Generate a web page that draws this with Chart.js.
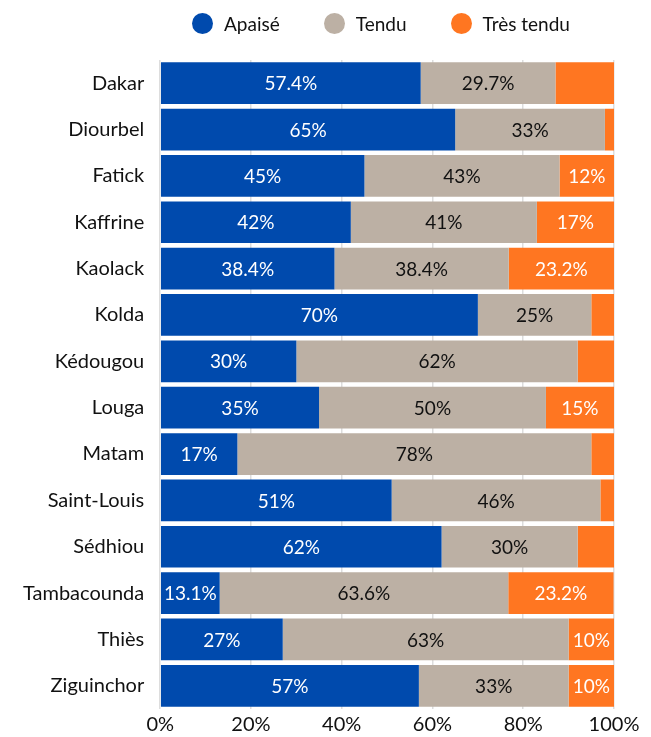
<!DOCTYPE html>
<html>
<head>
<meta charset="utf-8">
<script src="https://cdn.jsdelivr.net/npm/chart.js@4.4.0/dist/chart.umd.min.js"></script>
<style>
    html, body { margin: 0; padding: 0; background: #fff; }
    #page { position: relative; width: 651px; height: 737px; }
    #legend {
        position: absolute;
        top: 0;
        left: 0;
        height: 46px;
        display: flex;
        justify-content: center;
        align-items: center;
        gap: 44px;
        padding-left: 148px;
        padding-right: 37px;
        box-sizing: border-box;
        width: 651px;
        font: 19px Lato, sans-serif;
        color: #111;
    }
    #legend .item { display: flex; align-items: center; }
    #legend .dot { width: 21px; height: 21px; border-radius: 50%; margin-right: 11px; }
    #wrap { width: 651px; height: 737px; }
</style>
</head>
<body>
<div id="page">
    <div id="wrap"><canvas id="climat-chart"></canvas></div>
    <div id="legend"></div>
</div>
<script>
const regions = ["Dakar", "Diourbel", "Fatick", "Kaffrine", "Kaolack", "Kolda", "Kédougou",
    "Louga", "Matam", "Saint-Louis", "Sédhiou", "Tambacounda", "Thiès", "Ziguinchor"];
const apaise    = [57.4, 65, 45, 42, 38.4, 70, 30, 35, 17, 51, 62, 13.1, 27, 57];
const tendu     = [29.7, 33, 43, 41, 38.4, 25, 62, 50, 78, 46, 30, 63.6, 63, 33];
const tresTendu = [12.9, 2, 12, 17, 23.2, 5, 8, 15, 5, 3, 8, 23.2, 10, 10];
const xTicks = [0, 20, 40, 60, 80, 100];
// labels the original left out
const hiddenLabels = { "Très tendu": ["Dakar"] };

const labelFont = "19px Lato";

// Draw value labels inside each bar segment
const segmentLabels = {
    id: 'segmentLabels',
    afterDatasetsDraw(chart) {
        const ctx = chart.ctx;
        ctx.save();
        ctx.font = labelFont;
        ctx.textAlign = 'center';
        ctx.textBaseline = 'middle';
        chart.data.datasets.forEach(function(ds, i) {
            const meta = chart.getDatasetMeta(i);
            meta.data.forEach(function(bar, j) {
                const v = ds.data[j];
                if (v < 10) return;
                const skip = hiddenLabels[ds.label];
                if (skip && skip.indexOf(regions[j]) >= 0) return;
                ctx.fillStyle = ds.labelColor;
                const x = (bar.x + bar.base) / 2;
                ctx.fillText(v + '%', x, bar.y + 1);
            });
        });
        ctx.restore();
    }
};

const ctx = document.getElementById("climat-chart").getContext("2d");

const chart = new Chart(ctx, {
    type: 'bar',
    data: {
        labels: regions,
        datasets: [
            {
                label: 'Apaisé',
                data: apaise,
                backgroundColor: '#004AAD',
                labelColor: '#ffffff',
                barPercentage: 0.9,
                categoryPercentage: 1
            },
            {
                label: 'Tendu',
                data: tendu,
                backgroundColor: '#BCB0A4',
                labelColor: '#111111',
                barPercentage: 0.9,
                categoryPercentage: 1
            },
            {
                label: 'Très tendu',
                data: tresTendu,
                backgroundColor: '#FF7621',
                labelColor: '#ffffff',
                barPercentage: 0.9,
                categoryPercentage: 1
            }
        ]
    },
    options: {
        indexAxis: 'y',
        responsive: true,
        maintainAspectRatio: false,
        animation: false,
        layout: {
            padding: { left: 7, right: 37, top: 60, bottom: -8 }
        },
        plugins: {
            legend: { display: false },
            tooltip: { enabled: false }
        },
        scales: {
            x: {
                stacked: true,
                min: 0,
                max: 100,
                border: { display: false },
                grid: {
                    display: true,
                    drawTicks: false,
                    color: '#dddddd',
                    lineWidth: 1.5
                },
                afterBuildTicks: function(axis) {
                    axis.ticks = xTicks.map(function(v) { return { value: v }; });
                },
                ticks: {
                    padding: 4,
                    color: '#111',
                    font: { size: 20, family: "Lato" },
                    callback: function(value) { return value + '%'; }
                }
            },
            y: {
                stacked: true,
                border: { display: false },
                grid: { display: false, drawTicks: false },
                ticks: {
                    padding: 16,
                    color: '#111',
                    font: { size: 20, family: "Lato" }
                }
            }
        }
    },
    plugins: [segmentLabels]
});

// HTML legend built from the datasets
const legendEl = document.getElementById("legend");
chart.data.datasets.forEach(function(ds) {
    const item = document.createElement("span");
    item.className = "item";
    const dot = document.createElement("span");
    dot.className = "dot";
    dot.style.background = ds.backgroundColor;
    item.appendChild(dot);
    item.appendChild(document.createTextNode(ds.label));
    legendEl.appendChild(item);
});
</script>
</body>
</html>
